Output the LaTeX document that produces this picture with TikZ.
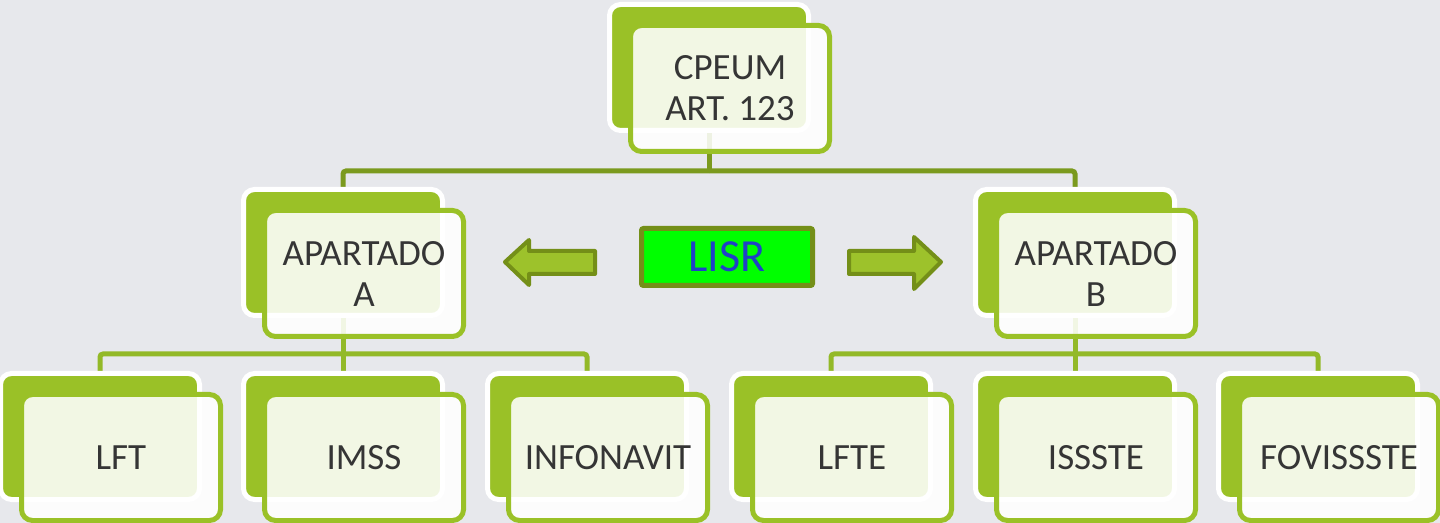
\documentclass[tikz,border=0pt]{standalone}
\usepackage{fontspec}
\setmainfont{Carlito}
\pgfdeclarelayer{bg}
\pgfsetlayers{bg,main}
\definecolor{bgc}{HTML}{E7E8EC}
\definecolor{leaf}{HTML}{9AC127}
\definecolor{conndark}{HTML}{7B9A1E}
\definecolor{connlight}{HTML}{93B928}
\definecolor{txt}{HTML}{353535}
\definecolor{olive}{HTML}{748F18}
\definecolor{arrowfill}{HTML}{9DC22B}
\definecolor{lisrblue}{HTML}{2040C8}
\definecolor{lime}{HTML}{00FF00}
\tikzset{
 backbox/.style={draw=white, fill=leaf, line width=2.5pt, rounded corners=5.5pt, minimum width=99.5pt, minimum height=63pt, inner sep=0pt},
 frontbox/.style={draw=leaf, fill=white, fill opacity=0.88, text opacity=1, line width=2.5pt, rounded corners=5.5pt, minimum width=99.5pt, minimum height=63pt, inner sep=0pt, align=center, text=txt, font=\fontsize{18.5}{20.5}\selectfont},
 conn/.style={line width=2.5pt, rounded corners=1.5pt},
 blockarrow/.style={draw=olive, fill=arrowfill, line width=2pt, line join=round},
 lisrbox/.style={draw=olive, fill=lime, line width=2.5pt, rounded corners=1pt, minimum width=85.5pt, minimum height=28.5pt, inner sep=0pt, text=lisrblue, font=\fontsize{23}{26}\selectfont},
}
\begin{document}
\begin{tikzpicture}[x=0.5pt,y=-0.5pt]
\useasboundingbox (0,0) rectangle (1440,523);
% top
\node[backbox] (topB) at (709,67.5) {};
\node[frontbox] (top) at (730,88.5) {CPEUM\\ART. 123};
% level 2
\node[backbox] (aB) at (343,252.5) {};
\node[frontbox] (a) at (364,273.5) {APARTADO\\A};
\node[backbox] (bB) at (1075,252.5) {};
\node[frontbox] (b) at (1096,273.5) {APARTADO\\B};
% level 3
\node[backbox] (lftB) at (100,436.5) {};
\node[frontbox] (lft) at (121,457.5) {LFT};
\node[backbox] (imssB) at (343,436.5) {};
\node[frontbox] (imss) at (364,457.5) {IMSS};
\node[backbox] (infoB) at (587,436.5) {};
\node[frontbox] (info) at (608,457.5) {INFONAVIT};
\node[backbox] (lfteB) at (831,436.5) {};
\node[frontbox] (lfte) at (852,457.5) {LFTE};
\node[backbox] (isssteB) at (1075,436.5) {};
\node[frontbox] (issste) at (1096,457.5) {ISSSTE};
\node[backbox] (foviB) at (1318,436.5) {};
\node[frontbox] (fovi) at (1339,457.5) {FOVISSSTE};
% LISR and arrows
\node[lisrbox] (lisr) at (727,257) {LISR};
\draw[blockarrow] (505,262) -- (529,240) -- (529,251) -- (595,251) -- (595,274) -- (529,274) -- (529,285) -- cycle;
\draw[blockarrow] (849,251) -- (914,251) -- (914,237) -- (941,262) -- (914,289) -- (914,274) -- (849,274) -- cycle;
% connectors
\coordinate (j1) at (709,171);
\coordinate (j2) at (343,354);
\coordinate (j3) at (1075,354);
\begin{pgfonlayer}{bg}
\fill[bgc] (0,0) rectangle (1440,523);
\draw[conn,conndark] (topB.south) -- (j1);
\draw[conn,conndark] (j1) -| (aB.north);
\draw[conn,conndark] (j1) -| (bB.north);
\draw[conn,connlight] (aB.south) -- (j2);
\draw[conn,connlight] (j2) -| (lftB.north);
\draw[conn,connlight] (j2) -- (imssB.north);
\draw[conn,connlight] (j2) -| (infoB.north);
\draw[conn,connlight] (bB.south) -- (j3);
\draw[conn,connlight] (j3) -| (lfteB.north);
\draw[conn,connlight] (j3) -- (isssteB.north);
\draw[conn,connlight] (j3) -| (foviB.north);
\end{pgfonlayer}
\end{tikzpicture}
\end{document}
